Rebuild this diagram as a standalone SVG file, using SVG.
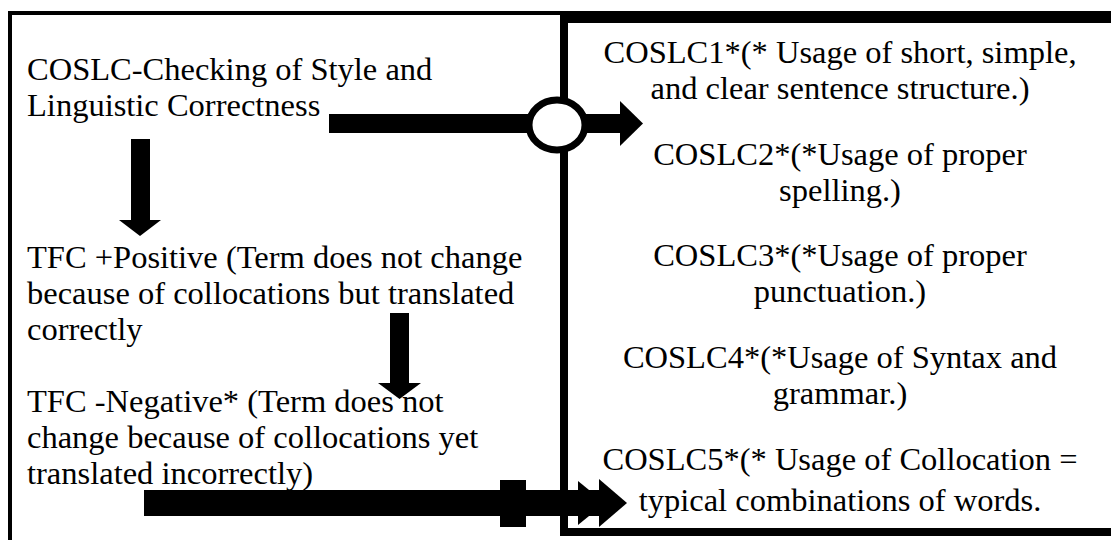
<svg xmlns="http://www.w3.org/2000/svg" width="1111" height="540" viewBox="0 0 1111 540">
  <style>
    text { font-family: "Liberation Serif", "Times New Roman", "DejaVu Serif", serif; font-size: 32.5px; fill: #000; }
    .c { text-anchor: middle; }
    .frame { fill: none; stroke: #000; }
    .blk { fill: #000; }
  </style>

  <!-- outer frame (open at the bottom and right) -->
  <g id="outer-frame">
    <path class="frame" stroke-width="4" d="M10,540 V13 H1120"/>
  </g>

  <!-- right-hand box listing the COSLC checks -->
  <g id="coslc-box">
    <rect class="frame" stroke-width="8" x="564" y="19" width="560" height="513"/>
  </g>

  <!-- left-hand nodes -->
  <g id="node-coslc">
    <text x="27" y="80">COSLC-Checking of Style and</text>
    <text x="27" y="116">Linguistic Correctness</text>
  </g>
  <g id="node-tfc-positive">
    <text x="27" y="268">TFC +Positive (Term does not change</text>
    <text x="27" y="304">because of collocations but translated</text>
    <text x="27" y="340">correctly</text>
  </g>
  <g id="node-tfc-negative">
    <text x="27" y="412">TFC -Negative* (Term does not</text>
    <text x="27" y="448">change because of collocations yet</text>
    <text x="27" y="484">translated incorrectly)</text>
  </g>

  <!-- right-hand items -->
  <g id="node-coslc1">
    <text class="c" x="840" y="63">COSLC1*(* Usage of short, simple,</text>
    <text class="c" x="840" y="99">and clear sentence structure.)</text>
  </g>
  <g id="node-coslc2">
    <text class="c" x="840" y="165">COSLC2*(*Usage of proper</text>
    <text class="c" x="840" y="201">spelling.)</text>
  </g>
  <g id="node-coslc3">
    <text class="c" x="840" y="266">COSLC3*(*Usage of proper</text>
    <text class="c" x="840" y="302">punctuation.)</text>
  </g>
  <g id="node-coslc4">
    <text class="c" x="840" y="368">COSLC4*(*Usage of Syntax and</text>
    <text class="c" x="840" y="404">grammar.)</text>
  </g>
  <g id="node-coslc5">
    <text class="c" x="840" y="470">COSLC5*(* Usage of Collocation =</text>
    <text class="c" x="840" y="511">typical combinations of words.</text>
  </g>

  <!-- connectors -->
  <g id="connectors">
    <!-- COSLC -> junction -> COSLC1 -->
    <rect class="blk" x="329" y="114" width="200" height="19"/>
    <ellipse cx="557" cy="125" rx="28" ry="25" fill="#fff" stroke="#000" stroke-width="7"/>
    <rect class="blk" x="585" y="114" width="36" height="19"/>
    <polygon class="blk" points="620,101 643,123.5 620,146"/>

    <!-- COSLC -> TFC +Positive -->
    <rect class="blk" x="131" y="139" width="19" height="83"/>
    <polygon class="blk" points="119,220 161,220 140,236"/>

    <!-- TFC +Positive -> TFC -Negative -->
    <rect class="blk" x="390" y="313" width="19" height="72"/>
    <polygon class="blk" points="378,383 421,383 399.5,399"/>

    <!-- TFC -Negative -> COSLC5 -->
    <rect class="blk" x="144" y="490" width="456" height="26"/>
    <rect class="blk" x="500" y="480" width="26" height="47"/>
    <polygon class="blk" points="578,481 605,503 578,525"/>
    <polygon class="blk" points="599,479 627,503 599,527"/>
  </g>
</svg>
